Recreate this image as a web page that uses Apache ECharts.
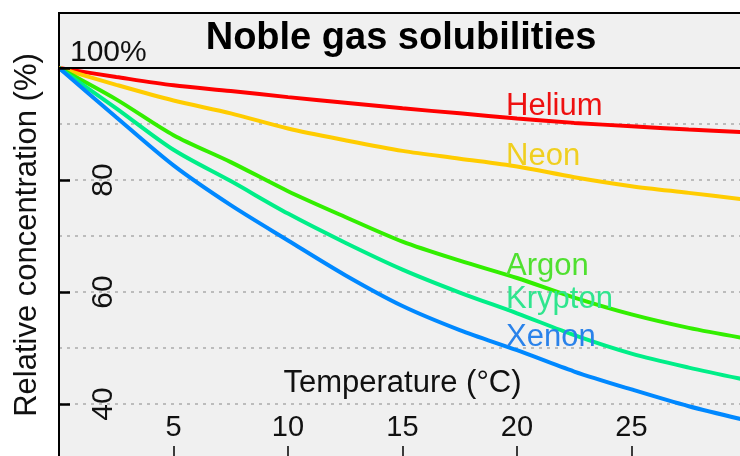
<!DOCTYPE html>
<html>
<head>
<meta charset="utf-8">
<script src="https://cdn.jsdelivr.net/npm/echarts@6/dist/echarts.min.js"></script>
<style>
  html, body { margin: 0; padding: 0; background: #ffffff; }
  #chart { width: 740px; height: 456px; }
</style>
</head>
<body>
<div id="chart"></div>
<script>
// Water temperature (°C) and relative dissolved concentration (% of the 0 °C value)
const temperatures = [0, 2.5, 5, 7.5, 10, 12.5, 15, 17.5, 20, 22.5, 25, 27.5, 30];
const helium  = [100, 98.4, 96.9, 95.9, 94.8, 93.8, 92.8, 91.9, 91.0, 90.2, 89.6, 89.0, 88.5];
const neon    = [100, 97.0, 94.2, 91.9, 89.2, 87.1, 85.2, 83.8, 82.4, 80.5, 78.9, 77.7, 76.5];
const argon   = [100, 94.4, 88.0, 83.2, 78.0, 73.4, 69.0, 65.6, 62.5, 59.0, 56.0, 53.6, 51.7];
const krypton = [100, 92.8, 85.4, 79.8, 74.0, 68.8, 64.0, 59.9, 56.2, 52.3, 49.0, 46.5, 44.3];
const xenon   = [100, 91.2, 82.6, 75.5, 69.2, 63.0, 57.5, 53.2, 49.6, 45.8, 42.6, 39.6, 37.1];

const gasNames = ['Helium', 'Neon', 'Argon', 'Krypton', 'Xenon'];
const xTickLabels = [5, 10, 15, 20, 25];
const yTickLabels = [40, 60, 80];

const gasValues = [helium, neon, argon, krypton, xenon];
const lineColors = ['#ff0000', '#ffcc00', '#33ee00', '#00ee88', '#0088ff'];
const textColors = ['#ee1010', '#f0cf20', '#50e030', '#30e58e', '#2a82ea'];
// where each gas name is written, in temperature / percent units
const nameSpots = [[19.5, 93.1], [19.5, 84.2], [19.5, 64.6], [19.5, 58.7], [19.5, 51.9]];

const FONT = '"Liberation Sans", Arial, Helvetica, sans-serif';

const series = gasNames.map((name, i) => ({
  name: name,
  type: 'line',
  xAxisIndex: 0,
  yAxisIndex: 0,
  data: temperatures.map((t, k) => [t, gasValues[i][k]]),
  smooth: 0.3,
  showSymbol: false,
  lineStyle: { color: lineColors[i], width: 4 },
  itemStyle: { color: lineColors[i] },
  z: 3,
  markPoint: {
    symbol: 'circle',
    symbolSize: 1,
    itemStyle: { color: 'transparent' },
    label: {
      show: true,
      position: 'right',
      distance: 0,
      formatter: name,
      color: textColors[i],
      fontFamily: FONT,
      fontSize: 31
    },
    data: [{ coord: nameSpots[i] }]
  }
}));

const chart = echarts.init(document.getElementById('chart'), null, { renderer: 'canvas' });

chart.setOption({
  animation: false,
  backgroundColor: '#ffffff',
  textStyle: { fontFamily: FONT },
  grid: [
    // plotting area
    { left: 59, top: 68, right: -6, bottom: -4, show: true, outerBoundsMode: 'none',
      containLabel: false, z: 4,
      borderColor: '#000000', borderWidth: 2, backgroundColor: 'transparent' },
    // same vertical scale, extended to 20 % so ticks fall on every 20
    { left: 59, top: 68, right: -6, height: 448, show: false, outerBoundsMode: 'none',
      containLabel: false }
  ],
  xAxis: [
    {
      type: 'value', gridIndex: 0, min: 0, max: 30, interval: 5,
      axisLine: { show: false },
      axisTick: { show: true, inside: true, length: 14, lineStyle: { color: '#000', width: 1.5 } },
      axisLabel: {
        inside: true, margin: 18, fontSize: 29, color: '#111',
        formatter: v => (xTickLabels.includes(v) ? String(v) : '')
      },
      splitLine: { show: false },
      name: 'Temperature (\u00B0C)',
      nameLocation: 'middle',
      nameGap: -77,
      nameTextStyle: { fontSize: 31, color: '#111', verticalAlign: 'middle', fontFamily: FONT }
    },
    { type: 'value', gridIndex: 1, min: 0, max: 30, show: false }
  ],
  yAxis: [
    {
      type: 'value', gridIndex: 0, min: 30, max: 100, interval: 10,
      axisLine: { show: false }, axisTick: { show: false }, axisLabel: { show: false },
      splitLine: { show: true, showMaxLine: false,
                   lineStyle: { color: '#aaaaaa', width: 1.5, type: [3, 5] } }
    },
    {
      type: 'value', gridIndex: 1, min: 20, max: 100, interval: 20, z: 5,
      axisLine: { show: true, lineStyle: { color: '#000', width: 2 } },
      axisTick: { show: true, inside: true, length: 11, lineStyle: { color: '#000', width: 2.5 } },
      axisLabel: {
        inside: true, rotate: 90, margin: 30, fontSize: 30, color: '#111',
        formatter: v => (yTickLabels.includes(v) ? String(v) : '')
      },
      splitLine: { show: false }
    }
  ],
  graphic: [
    { type: 'rect', z: -10, silent: true,
      shape: { x: 59, y: 13, width: 720, height: 500 },
      style: { fill: '#f0f0f0', stroke: '#000000', lineWidth: 2 } },
    { type: 'text', z: 10, x: 401, y: 39,
      style: { text: 'Noble gas solubilities', fill: '#000', font: 'bold 38px ' + FONT,
               textAlign: 'center', textVerticalAlign: 'middle' } },
    { type: 'text', z: 10, x: 70, y: 53,
      style: { text: '100%', fill: '#111', font: '30px ' + FONT,
               textAlign: 'left', textVerticalAlign: 'middle' } },
    { type: 'text', z: 10, x: 27, y: 235, rotation: Math.PI / 2,
      style: { text: 'Relative concentration (%)', fill: '#111', font: '31px ' + FONT,
               textAlign: 'center', textVerticalAlign: 'middle' } }
  ],
  series: series
});
</script>
</body>
</html>
